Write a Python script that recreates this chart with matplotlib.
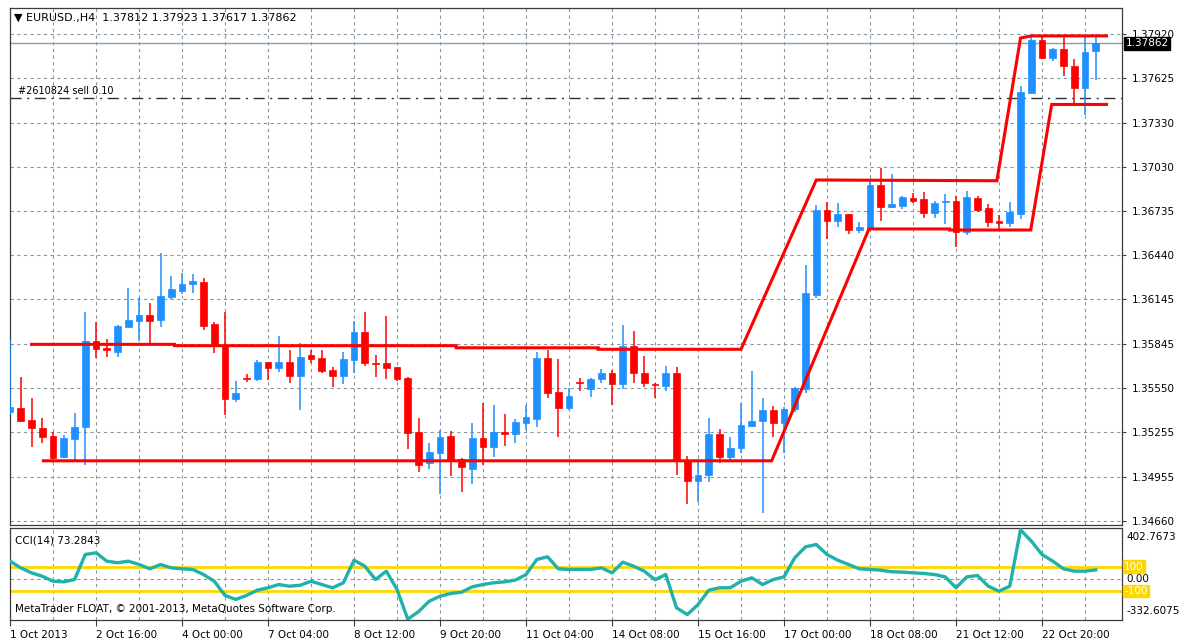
import matplotlib
matplotlib.use("Agg")
import matplotlib.pyplot as plt
import matplotlib.transforms as mtransforms
import numpy as np

# EURUSD H4, 1 Oct - 23 Oct 2013
opens = [1.35391, 1.35419, 1.35337, 1.35281, 1.35230, 1.35087, 1.35208, 1.35288, 1.35868, 1.35817,
         1.35791, 1.35962, 1.36000, 1.36040, 1.36007, 1.36163, 1.36203, 1.36246, 1.36264, 1.35978,
         1.35840, 1.35478, 1.35620, 1.35612, 1.35724, 1.35683, 1.35728, 1.35632, 1.35771, 1.35754,
         1.35672, 1.35632, 1.35739, 1.35925, 1.35721, 1.35717, 1.35690, 1.35616, 1.35259, 1.35047,
         1.35118, 1.35232, 1.35076, 1.35009, 1.35214, 1.35154, 1.35259, 1.35243, 1.35315, 1.35342,
         1.35754, 1.35527, 1.35415, 1.35594, 1.35543, 1.35610, 1.35654, 1.35576, 1.35833, 1.35654,
         1.35578, 1.35565, 1.35654, 1.35067, 1.34930, 1.34969, 1.35243, 1.35091, 1.35147, 1.35297,
         1.35332, 1.35404, 1.35315, 1.35409, 1.35543, 1.36175, 1.36744, 1.36672, 1.36715, 1.36610,
         1.36617, 1.36912, 1.36766, 1.36773, 1.36822, 1.36818, 1.36722, 1.36798, 1.36804, 1.36599,
         1.36822, 1.36759, 1.36670, 1.36659, 1.36715, 1.37530, 1.37883, 1.37760, 1.37821, 1.37711,
         1.37563, 1.37812]
highs = [1.35873, 1.35627, 1.35484, 1.35350, 1.35259, 1.35237, 1.35386, 1.36059, 1.35996, 1.35880,
         1.35975, 1.36219, 1.36152, 1.36123, 1.36454, 1.36302, 1.36320, 1.36313, 1.36290, 1.35996,
         1.36059, 1.35600, 1.35645, 1.35739, 1.35726, 1.35900, 1.35806, 1.35851, 1.35806, 1.35806,
         1.35690, 1.35795, 1.36002, 1.36059, 1.35771, 1.36034, 1.35692, 1.35627, 1.35348, 1.35185,
         1.35270, 1.35265, 1.35080, 1.35315, 1.35449, 1.35438, 1.35377, 1.35342, 1.35438, 1.35795,
         1.35806, 1.35746, 1.35549, 1.35616, 1.35620, 1.35679, 1.35672, 1.35974, 1.35935, 1.35766,
         1.35587, 1.35701, 1.35690, 1.35099, 1.35069, 1.35348, 1.35275, 1.35221, 1.35453, 1.35665,
         1.35482, 1.35431, 1.35426, 1.35560, 1.36376, 1.36778, 1.36800, 1.36789, 1.36718, 1.36662,
         1.36945, 1.37023, 1.36985, 1.36840, 1.36856, 1.36867, 1.36804, 1.36849, 1.36840, 1.36873,
         1.36840, 1.36784, 1.36711, 1.36800, 1.37577, 1.37910, 1.37910, 1.37827, 1.37917, 1.37756,
         1.37917, 1.37923]
lows = [1.35371, 1.35324, 1.35156, 1.35183, 1.35069, 1.35082, 1.35064, 1.35036, 1.35750, 1.35757,
        1.35757, 1.35960, 1.35866, 1.35844, 1.35962, 1.36146, 1.36181, 1.36186, 1.35940, 1.35784,
        1.35371, 1.35460, 1.35594, 1.35600, 1.35605, 1.35657, 1.35585, 1.35404, 1.35717, 1.35654,
        1.35556, 1.35576, 1.35650, 1.35701, 1.35627, 1.35610, 1.35600, 1.35141, 1.34991, 1.35007,
        1.34841, 1.34962, 1.34857, 1.34908, 1.35036, 1.35091, 1.35163, 1.35181, 1.35270, 1.35288,
        1.35486, 1.35221, 1.35404, 1.35533, 1.35493, 1.35583, 1.35438, 1.35543, 1.35583, 1.35556,
        1.35482, 1.35533, 1.34969, 1.34776, 1.34790, 1.34920, 1.35047, 1.35064, 1.35118, 1.35288,
        1.34716, 1.35225, 1.35114, 1.35393, 1.35516, 1.36152, 1.36548, 1.36628, 1.36583, 1.36588,
        1.36610, 1.36672, 1.36760, 1.36749, 1.36789, 1.36688, 1.36692, 1.36650, 1.36494, 1.36577,
        1.36733, 1.36628, 1.36615, 1.36628, 1.36684, 1.37528, 1.37754, 1.37744, 1.37642, 1.37459,
        1.37381, 1.37617]
closes = [1.35424, 1.35330, 1.35281, 1.35221, 1.35080, 1.35214, 1.35292, 1.35868, 1.35813, 1.35806,
          1.35969, 1.36007, 1.36040, 1.36000, 1.36168, 1.36213, 1.36248, 1.36266, 1.35969, 1.35840,
          1.35478, 1.35520, 1.35612, 1.35728, 1.35683, 1.35728, 1.35632, 1.35761, 1.35748, 1.35665,
          1.35632, 1.35744, 1.35925, 1.35721, 1.35712, 1.35683, 1.35610, 1.35248, 1.35036, 1.35125,
          1.35221, 1.35064, 1.35020, 1.35214, 1.35154, 1.35259, 1.35243, 1.35322, 1.35359, 1.35754,
          1.35520, 1.35415, 1.35500, 1.35583, 1.35610, 1.35654, 1.35576, 1.35833, 1.35650, 1.35583,
          1.35570, 1.35654, 1.35062, 1.34928, 1.34969, 1.35243, 1.35091, 1.35151, 1.35304, 1.35330,
          1.35404, 1.35315, 1.35413, 1.35549, 1.36186, 1.36744, 1.36672, 1.36715, 1.36610, 1.36632,
          1.36912, 1.36766, 1.36784, 1.36829, 1.36806, 1.36722, 1.36793, 1.36806, 1.36599, 1.36829,
          1.36744, 1.36666, 1.36659, 1.36729, 1.37537, 1.37883, 1.37760, 1.37821, 1.37709, 1.37563,
          1.37801, 1.37862]

# CCI(14)
cci = [145, 90, 49, 21, -20, -25, -6, 200, 214, 145,
       132, 145, 118, 82, 118, 90, 82, 77, 35, -20,
       -137, -170, -137, -94, -74, -47, -61, -53, -20, -47,
       -74, -33, 153, 104, -6, 63, -88, -332.6075, -270, -184,
       -143, -121, -110, -66, -47, -33, -25, -11, 35, 159,
       181, 82, 77, 77, 77, 90, 49, 137, 104, 63,
       -8, 35, -239, -294, -212, -94, -74, -74, -20, 8,
       -47, -6, 16, 173, 263, 282, 200, 153, 118, 82,
       77, 71, 58, 55, 49, 44, 35, 16, -74, 16,
       27, -61, -102, -61, 402.7673, 310, 200, 145, 82, 63,
       63, 73.2843]

# channel lines (bar index, price)
upper_x = [2, 15.3, 15.3, 41.5, 41.5, 54.7, 54.7, 68, 75, 91.8, 94, 95, 102]
upper_y = [1.35844, 1.35844, 1.35835, 1.35835, 1.35821, 1.35821, 1.35811, 1.35811,
           1.36945, 1.36940, 1.37896, 1.37910, 1.37910]
lower_x = [3.1, 70.85, 79.9, 87.4, 87.4, 94.95, 96.9, 102]
lower_y = [1.35064, 1.35064, 1.36617, 1.36617, 1.36610, 1.36610, 1.37451, 1.37451]

price_ticks = [1.34660, 1.34955, 1.35255, 1.35550, 1.35845, 1.36145,
               1.36440, 1.36735, 1.37030, 1.37330, 1.37625, 1.37920]
date_pos = [0, 8, 16, 24, 32, 40, 48, 56, 64, 72, 80, 88, 96]
date_labels = ["1 Oct 2013", "2 Oct 16:00", "4 Oct 00:00", "7 Oct 04:00", "8 Oct 12:00",
               "9 Oct 20:00", "11 Oct 04:00", "14 Oct 08:00", "15 Oct 16:00", "17 Oct 00:00",
               "18 Oct 08:00", "21 Oct 12:00", "22 Oct 20:00"]
last_price = 1.37862
sell_price = 1.37496

BLUE = "#1E90FF"
RED = "#FF0000"
GRID = "#8b95a0"
FS = 7.5

W, H = 1193, 644
fig = plt.figure(figsize=(W / 100, H / 100), dpi=100)


def box(x0, y0, x1, y1):
    return [x0 / W, 1 - y1 / H, (x1 - x0) / W, (y1 - y0) / H]


ax = fig.add_axes(box(9.5, 8, 1122, 525))
ax2 = fig.add_axes(box(9.5, 528, 1122, 620))

for a in (ax, ax2):
    a.set_xlim(-0.05, 103.44)
    for s in a.spines.values():
        s.set_color("#3c3c3c")
        s.set_linewidth(0.9)
    for gx in range(4, 104, 4):
        a.axvline(gx, color=GRID, lw=0.8, ls=(0, (3, 3)), zorder=0)

# --- price panel
ax.set_ylim(1.34634, 1.38097)
for p in price_ticks:
    ax.axhline(p, color=GRID, lw=0.8, ls=(0, (3, 3)), zorder=0)

x = np.arange(len(opens))
o = np.array(opens); h = np.array(highs); l = np.array(lows); c = np.array(closes)
cols = [BLUE if cc >= oo else RED for oo, cc in zip(o, c)]
ax.vlines(x, l, h, colors=cols, lw=1.1, zorder=3)
body_lo = np.minimum(o, c)
body_h = np.maximum(np.abs(c - o), 0.00009)
ax.bar(x, body_h, bottom=body_lo, width=0.62, color=cols, edgecolor=cols, lw=0.5, zorder=4)

ax.plot(upper_x, upper_y, color=RED, lw=2.2, zorder=5, solid_joinstyle="miter")
ax.plot(lower_x, lower_y, color=RED, lw=2.2, zorder=5, solid_joinstyle="miter")

ax.axhline(last_price, color="#8e9cab", lw=1.0, zorder=2)
ax.axhline(sell_price, color="#303030", lw=1.0, ls=(0, (8, 4, 1.5, 4)), zorder=2)
ax.text(0.75, sell_price + 0.00012, "#2610824 sell 0.10", fontsize=7, va="bottom", ha="left")

ax.yaxis.tick_right()
ax.set_yticks(price_ticks)
ax.set_yticklabels([f"{p:.5f}" for p in price_ticks])
ax.tick_params(axis="y", direction="out", length=3, pad=4, labelsize=FS, colors="#3c3c3c",
               labelcolor="black")
ax.tick_params(axis="x", bottom=False, labelbottom=False)

trans = mtransforms.blended_transform_factory(ax.transAxes, ax.transData)
ax.text(1.003, last_price, f"{last_price:.5f}", transform=trans, fontsize=FS, color="white",
        va="center", ha="left",
        bbox=dict(boxstyle="square,pad=0.15", fc="black", ec="black"), zorder=10)

fig.text(14 / W, 1 - 18 / H, "▼ EURUSD.,H4  1.37812 1.37923 1.37617 1.37862",
         fontsize=8, va="center", ha="left")

# --- CCI panel
ax2.set_ylim(-339, 418)
ax2.axhline(0, color=GRID, lw=0.8, ls=(0, (3, 3)), zorder=0)
ax2.axhline(100, color="#FFD700", lw=2.0, zorder=2)
ax2.axhline(-100, color="#FFD700", lw=2.0, zorder=2)
ax2.plot(x, cci, color="#20B2AA", lw=2.4, zorder=3)

ax2.set_yticks([])
ax2.text(0.005, 0.86, f"CCI(14) {cci[-1]:.4f}", transform=ax2.transAxes, fontsize=FS,
         va="center", ha="left")
ax2.text(0.005, 0.12, "MetaTrader FLOAT, © 2001-2013, MetaQuotes Software Corp.",
         transform=ax2.transAxes, fontsize=FS, va="center", ha="left")

trans2 = mtransforms.blended_transform_factory(ax2.transAxes, ax2.transData)
ax2.text(1.004, 0.90, "402.7673", transform=ax2.transAxes, fontsize=FS, va="center", ha="left")
ax2.text(1.004, 0.10, "-332.6075", transform=ax2.transAxes, fontsize=FS, va="center", ha="left")
ax2.text(1.004, 0, "0.00", transform=trans2, fontsize=FS, va="center", ha="left")
for lvl in (100, -100):
    ax2.text(1.002, lvl, str(lvl), transform=trans2, fontsize=FS, color="white", va="center",
             ha="left", bbox=dict(boxstyle="square,pad=0.12", fc="#FFD700", ec="#FFD700"))

ax2.set_xticks(date_pos)
ax2.set_xticklabels(date_labels)
for lab in ax2.get_xticklabels():
    lab.set_horizontalalignment("left")
ax2.tick_params(axis="x", direction="out", length=4, pad=3, labelsize=FS, colors="#3c3c3c",
                labelcolor="black")

fig.savefig("out.png", dpi=100, facecolor="white")
